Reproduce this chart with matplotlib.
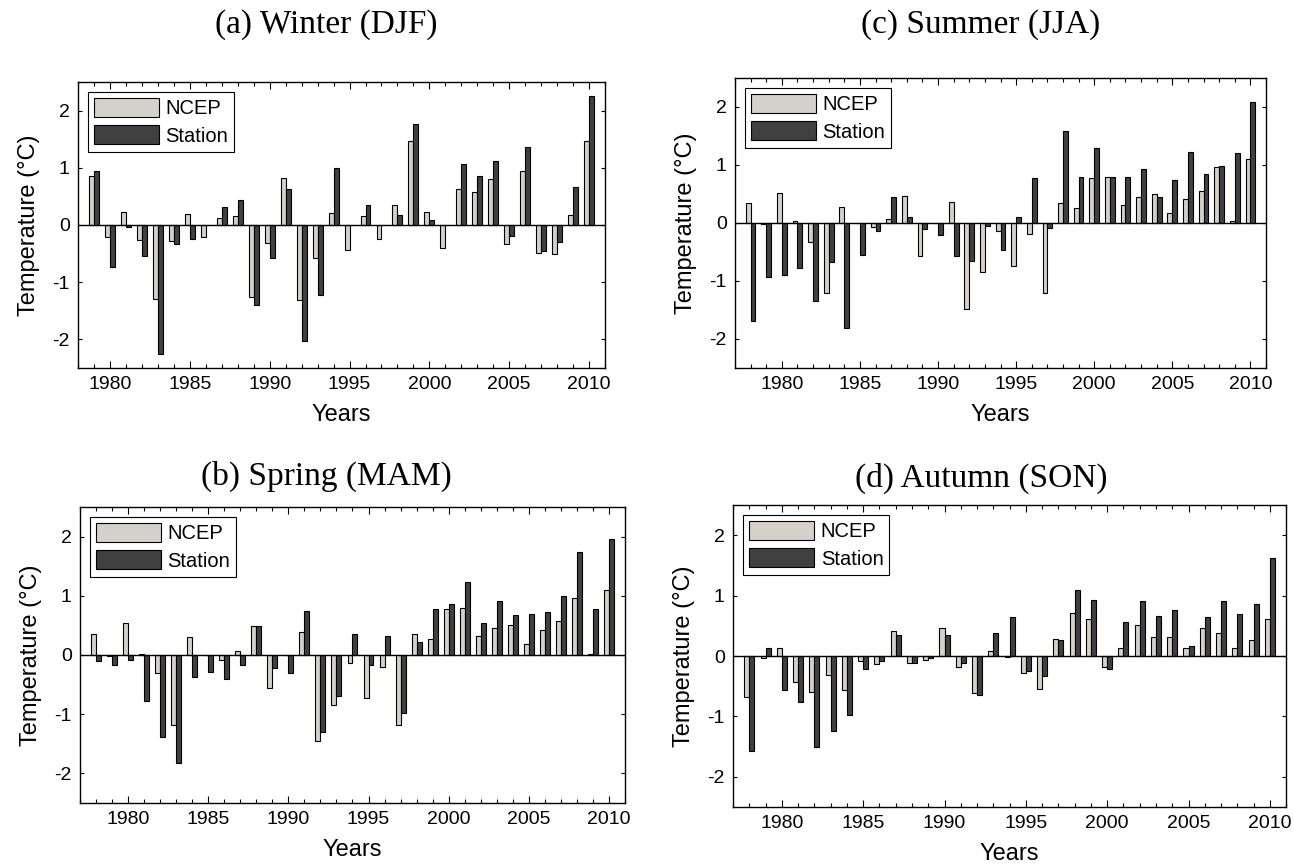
import matplotlib
import matplotlib.pyplot as plt
import numpy as np
from matplotlib.ticker import MultipleLocator

matplotlib.use("Agg")

# Seasonal temperature anomalies (deg C), NCEP vs station
winter_years = np.arange(1979, 2011)
winter_ncep = [0.86, -0.21, 0.23, -0.27, -1.29, -0.28, 0.20, -0.21, 0.12, 0.15,
               -1.26, -0.31, 0.83, -1.31, -0.58, 0.21, -0.43, 0.15, -0.25, 0.35,
               1.46, 0.23, -0.40, 0.63, 0.57, 0.80, -0.34, 0.95, -0.49, -0.51,
               0.18, 1.46]
winter_station = [0.94, -0.73, -0.03, -0.54, -2.25, -0.34, -0.24, 0.0, 0.32, 0.43,
                  -1.40, -0.58, 0.63, -2.02, -1.23, 1.00, 0.0, 0.35, 0.0, 0.18,
                  1.77, 0.09, 0.0, 1.06, 0.86, 1.12, -0.20, 1.37, -0.46, -0.30,
                  0.66, 2.25]

other_years = np.arange(1978, 2011)
spring_ncep = [0.35, -0.02, 0.54, 0.02, -0.30, -1.18, 0.30, 0.0, -0.08, 0.06,
               0.49, -0.56, 0.0, 0.39, -1.45, -0.84, -0.14, -0.72, -0.20, -1.18,
               0.35, 0.27, 0.78, 0.80, 0.32, 0.46, 0.51, 0.19, 0.43, 0.57,
               0.97, 0.02, 1.10]
spring_station = [-0.10, -0.17, -0.08, -0.78, -1.38, -1.83, -0.38, -0.28, -0.41, -0.17,
                  0.49, -0.22, -0.30, 0.75, -1.30, -0.70, 0.35, -0.17, 0.32, -0.98,
                  0.22, 0.78, 0.86, 1.24, 0.54, 0.91, 0.67, 0.70, 0.73, 0.99,
                  1.74, 0.78, 1.96]
summer_ncep = [0.34, -0.02, 0.52, 0.03, -0.33, -1.20, 0.27, 0.0, -0.07, 0.06,
               0.47, -0.57, 0.0, 0.36, -1.48, -0.85, -0.14, -0.74, -0.19, -1.21,
               0.34, 0.25, 0.77, 0.80, 0.31, 0.44, 0.50, 0.17, 0.41, 0.55,
               0.96, 0.03, 1.10]
summer_station = [-1.69, -0.93, -0.90, -0.78, -1.34, -0.68, -1.81, -0.55, -0.14, 0.44,
                  0.11, -0.11, -0.20, -0.57, -0.65, -0.06, -0.47, 0.11, 0.77, -0.09,
                  1.59, 0.80, 1.29, 0.80, 0.80, 0.93, 0.44, 0.74, 1.23, 0.85,
                  0.99, 1.20, 2.09]
autumn_ncep = [-0.68, -0.03, 0.14, -0.43, -0.60, -0.32, -0.57, -0.09, -0.14, 0.41,
               -0.11, -0.06, 0.46, -0.19, -0.62, 0.08, -0.02, -0.28, -0.54, 0.29,
               0.72, 0.61, -0.19, 0.14, 0.51, 0.32, 0.32, 0.13, 0.46, 0.38,
               0.13, 0.27, 0.62]
autumn_station = [-1.57, 0.14, -0.57, -0.76, -1.50, -1.24, -0.97, -0.22, -0.08, 0.35,
                  -0.11, -0.04, 0.35, -0.11, -0.65, 0.38, 0.64, -0.25, -0.33, 0.27,
                  1.09, 0.93, -0.22, 0.57, 0.91, 0.67, 0.77, 0.16, 0.64, 0.91,
                  0.70, 0.86, 1.63]

NCEP_COLOR = "#d3d1ca"
STATION_COLOR = "#404040"
BAR_W = 0.31


def season_panel(ax, years, ncep, station, xlim):
    ax.bar(years - BAR_W / 2, ncep, BAR_W, color=NCEP_COLOR, edgecolor="black",
           linewidth=0.8, label="NCEP")
    ax.bar(years + BAR_W / 2, station, BAR_W, color=STATION_COLOR, edgecolor="black",
           linewidth=0.8, label="Station")
    ax.axhline(0, color="black", linewidth=1.0)

    ax.set_xlim(*xlim)
    ax.set_ylim(-2.5, 2.5)
    ax.xaxis.set_major_locator(MultipleLocator(5))
    ax.xaxis.set_minor_locator(MultipleLocator(1))
    ax.set_yticks([-2, -1, 0, 1, 2])
    ax.tick_params(axis="both", which="both", direction="in", top=True, right=True,
                   labelsize=14, width=0.8)
    ax.tick_params(axis="x", which="major", length=5, pad=6)
    ax.tick_params(axis="x", which="minor", length=3)
    ax.tick_params(axis="y", which="major", length=3, pad=6)
    for side in ax.spines.values():
        side.set_linewidth(1.0)

    ax.set_xlabel("Years", fontsize=17, labelpad=8)
    ax.set_ylabel("Temperature (\u00b0C)", fontsize=17, labelpad=9)
    leg = ax.legend(loc="upper left", fontsize=14.5, handlelength=3.2,
                    handleheight=1.05, labelspacing=0.35, handletextpad=0.35,
                    borderpad=0.3, borderaxespad=0.5, fancybox=False,
                    edgecolor="black", framealpha=1)
    leg.get_frame().set_linewidth(0.8)


def main() -> None:
    plt.rcParams["font.family"] = ["Liberation Sans", "DejaVu Sans"]
    plt.rcParams["axes.unicode_minus"] = False
    fig = plt.figure(figsize=(12.94, 8.65), dpi=100)

    ax_a = fig.add_axes([0.0603, 0.5746, 0.4073, 0.3306])
    ax_c = fig.add_axes([0.5680, 0.5746, 0.4104, 0.3353])
    ax_b = fig.add_axes([0.0618, 0.0717, 0.4212, 0.3422])
    ax_d = fig.add_axes([0.5665, 0.0671, 0.4274, 0.3490])

    season_panel(ax_a, winter_years, winter_ncep, winter_station, (1978, 2011))
    season_panel(ax_c, other_years, summer_ncep, summer_station, (1977, 2011))
    season_panel(ax_b, other_years, spring_ncep, spring_station, (1977, 2011))
    season_panel(ax_d, other_years, autumn_ncep, autumn_station, (1977, 2011))

    title_kw = dict(family="Liberation Serif", fontsize=24, ha="center", va="center")
    fig.text(0.252, 0.972, "(a) Winter (DJF)", **title_kw)
    fig.text(0.758, 0.972, "(c) Summer (JJA)", **title_kw)
    fig.text(0.252, 0.449, "(b) Spring (MAM)", **title_kw)
    fig.text(0.758, 0.447, "(d) Autumn (SON)", **title_kw)

    fig.savefig("out.png", dpi=100)
    plt.close(fig)


if __name__ == "__main__":
    main()
